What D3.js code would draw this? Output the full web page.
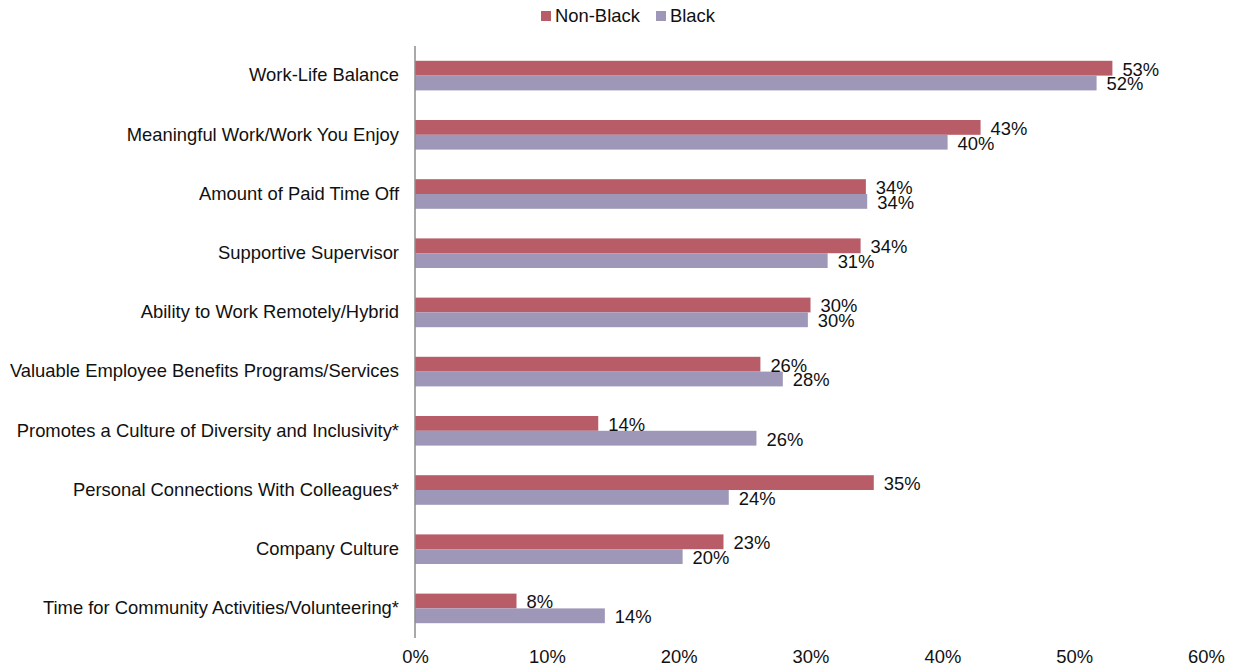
<!DOCTYPE html>
<html>
<head>
<meta charset="utf-8">
<script src="https://cdn.jsdelivr.net/npm/d3@7"></script>
<style>
  html, body { margin: 0; padding: 0; background: #fff; }
  svg { display: block; font-family: "Liberation Sans", Arial, sans-serif; }
</style>
</head>
<body>
<svg id="chart" width="1236" height="667"></svg>
<script>
// Workplace attributes, top to bottom
const categories = [
  "Work-Life Balance",
  "Meaningful Work/Work You Enjoy",
  "Amount of Paid Time Off",
  "Supportive Supervisor",
  "Ability to Work Remotely/Hybrid",
  "Valuable Employee Benefits Programs/Services",
  "Promotes a Culture of Diversity and Inclusivity*",
  "Personal Connections With Colleagues*",
  "Company Culture",
  "Time for Community Activities/Volunteering*"
];
const seriesNames = ["Non-Black", "Black"];
const nonBlack = [52.9, 42.9, 34.2, 33.8, 30.0, 26.2, 13.9, 34.8, 23.4, 7.7];
const black    = [51.7, 40.4, 34.3, 31.3, 29.8, 27.9, 25.9, 23.8, 20.3, 14.4];
const xTicks = [0, 10, 20, 30, 40, 50, 60];
const colors = ["#b85c68", "#9e97b8"];

const FONT = 18.4;
const svg = d3.select("#chart");
const margin = { left: 415, top: 46 };
const plotRight = 1206;
const plotBottom = 638;

const x = d3.scaleLinear().domain([0, 60]).range([margin.left, plotRight]);
const y = d3.scaleBand().domain(categories).range([margin.top, plotBottom]).paddingInner(0.5).paddingOuter(0.25);
const ySub = d3.scaleBand().domain(seriesNames).range([0, y.bandwidth()]);

const rows = categories.map((c, i) => ({ cat: c, values: [nonBlack[i], black[i]] }));

// bars
const groups = svg.append("g").selectAll("g").data(rows).join("g")
  .attr("transform", d => `translate(0,${y(d.cat)})`);

groups.selectAll("rect").data(d => d.values.map((v, k) => ({ v, k })))
  .join("rect")
  .attr("x", x(0))
  .attr("y", d => ySub(seriesNames[d.k]))
  .attr("width", d => x(d.v) - x(0))
  .attr("height", ySub.bandwidth())
  .attr("fill", d => colors[d.k]);

// value labels
groups.selectAll("text.val").data(d => d.values.map((v, k) => ({ v, k })))
  .join("text")
  .attr("class", "val")
  .attr("x", d => x(d.v) + 10)
  .attr("y", d => ySub(seriesNames[d.k]) + ySub.bandwidth() / 2 + 1)
  .attr("dy", "0.35em")
  .attr("font-size", FONT)
  .attr("fill", "#111")
  .text(d => Math.round(d.v) + "%");

// category axis
const yAxis = d3.axisLeft(y).tickSize(0).tickPadding(16);
const yg = svg.append("g").attr("transform", `translate(${x(0)},0)`).call(yAxis);
yg.select(".domain").attr("stroke", "#8c8c8c").attr("stroke-width", 1.5)
  .attr("d", `M0,${margin.top}V${plotBottom}`);
yg.selectAll("text").attr("font-size", FONT).attr("fill", "#111")
  .attr("font-family", "Liberation Sans, Arial, sans-serif");

// value axis (labels only)
const xAxis = d3.axisBottom(x).tickValues(xTicks).tickFormat(d => d + "%").tickSize(0).tickPadding(0);
const xg = svg.append("g").attr("transform", `translate(0,${plotBottom + 12})`).call(xAxis);
xg.select(".domain").remove();
xg.selectAll("text").attr("font-size", FONT).attr("fill", "#111")
  .attr("font-family", "Liberation Sans, Arial, sans-serif");

// legend
const legend = svg.append("g").attr("transform", "translate(541,0)");
const legendX = [0, 115];
seriesNames.forEach((name, k) => {
  const g = legend.append("g").attr("transform", `translate(${legendX[k]},0)`);
  g.append("rect").attr("x", 0).attr("y", 11).attr("width", 10).attr("height", 10).attr("fill", colors[k]);
  g.append("text").attr("x", 14).attr("y", 16).attr("dy", "0.35em")
    .attr("font-size", FONT).attr("fill", "#111").text(name);
});
</script>
</body>
</html>
